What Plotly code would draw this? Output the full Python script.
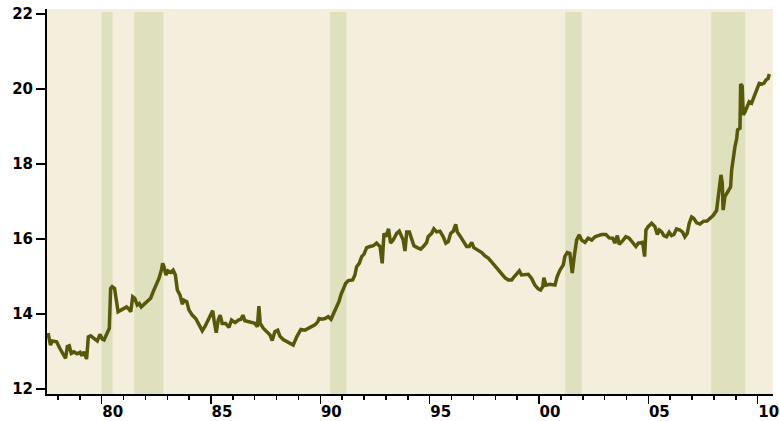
import plotly.graph_objects as go

# Decimal-year dates and values
years = [
    1977.55, 1977.66, 1977.74, 1977.94, 1978.09, 1978.24, 1978.35, 1978.43, 1978.52, 1978.61,
    1978.73, 1978.88, 1979.01, 1979.09, 1979.19, 1979.31, 1979.39, 1979.50, 1979.65, 1979.80,
    1979.92, 1980.03, 1980.11, 1980.26, 1980.35, 1980.41, 1980.48, 1980.59, 1980.75, 1980.90,
    1981.02, 1981.14, 1981.25, 1981.33, 1981.42, 1981.51, 1981.63, 1981.72, 1981.81, 1981.93,
    1982.09, 1982.24, 1982.36, 1982.48, 1982.62, 1982.73, 1982.79, 1982.85, 1982.94, 1983.03,
    1983.16, 1983.27, 1983.37, 1983.46, 1983.58, 1983.69, 1983.76, 1983.89, 1983.99, 1984.14,
    1984.30, 1984.42, 1984.60, 1984.72, 1984.87, 1985.00, 1985.08, 1985.15, 1985.24, 1985.33,
    1985.42, 1985.51, 1985.67, 1985.82, 1985.94, 1986.10, 1986.25, 1986.37, 1986.46, 1986.55,
    1986.70, 1986.86, 1987.01, 1987.12, 1987.19, 1987.25, 1987.39, 1987.55, 1987.70, 1987.80,
    1987.92, 1988.05, 1988.15, 1988.30, 1988.46, 1988.61, 1988.76, 1988.92, 1989.11, 1989.30,
    1989.45, 1989.60, 1989.75, 1989.88, 1989.94, 1990.06, 1990.21, 1990.36, 1990.49, 1990.61,
    1990.75, 1990.85, 1990.94, 1991.05, 1991.16, 1991.28, 1991.48, 1991.58, 1991.66, 1991.78,
    1991.89, 1991.99, 1992.12, 1992.27, 1992.42, 1992.57, 1992.73, 1992.83, 1992.91, 1993.00,
    1993.12, 1993.21, 1993.33, 1993.49, 1993.61, 1993.70, 1993.79, 1993.87, 1993.95, 1994.07,
    1994.18, 1994.28, 1994.43, 1994.59, 1994.74, 1994.86, 1994.93, 1995.09, 1995.19, 1995.32,
    1995.47, 1995.62, 1995.74, 1995.85, 1995.96, 1996.08, 1996.19, 1996.26, 1996.38, 1996.53,
    1996.69, 1996.81, 1996.92, 1997.02, 1997.17, 1997.38, 1997.53, 1997.68, 1997.83, 1997.98,
    1998.13, 1998.29, 1998.44, 1998.59, 1998.75, 1998.87, 1998.98, 1999.10, 1999.20, 1999.36,
    1999.51, 1999.66, 1999.81, 1999.96, 2000.07, 2000.17, 2000.22, 2000.32, 2000.50, 2000.73,
    2000.83, 2000.96, 2001.11, 2001.18, 2001.29, 2001.41, 2001.52, 2001.61, 2001.72, 2001.84,
    2001.95, 2002.10, 2002.25, 2002.41, 2002.56, 2002.71, 2002.86, 2003.06, 2003.21, 2003.37,
    2003.47, 2003.58, 2003.67, 2003.82, 2003.97, 2004.12, 2004.28, 2004.43, 2004.54, 2004.65,
    2004.74, 2004.83, 2004.89, 2004.99, 2005.15, 2005.30, 2005.41, 2005.50, 2005.61, 2005.71,
    2005.83, 2005.95, 2006.06, 2006.17, 2006.29, 2006.44, 2006.57, 2006.67, 2006.78, 2006.87,
    2006.98, 2007.08, 2007.21, 2007.36, 2007.51, 2007.68, 2007.81, 2007.95, 2008.12, 2008.24,
    2008.32, 2008.38, 2008.42, 2008.50, 2008.65, 2008.76, 2008.81, 2008.88, 2008.96, 2009.04,
    2009.08, 2009.19, 2009.22, 2009.29, 2009.34, 2009.42, 2009.52, 2009.61, 2009.72, 2009.83,
    2009.95, 2010.07, 2010.18, 2010.28, 2010.38, 2010.48, 2010.53,
]

values = [
    13.49, 13.17, 13.28, 13.26, 13.08, 12.92, 12.82, 13.13, 13.15, 12.95,
    12.99, 12.94, 12.98, 12.89, 12.99, 12.80, 13.39, 13.42, 13.35, 13.28,
    13.46, 13.33, 13.31, 13.48, 13.62, 14.68, 14.73, 14.68, 14.06, 14.11,
    14.15, 14.19, 14.13, 14.06, 14.46, 14.42, 14.24, 14.28, 14.19, 14.26,
    14.33, 14.42, 14.60, 14.77, 14.95, 15.17, 15.35, 15.26, 15.04, 15.15,
    15.11, 15.17, 15.04, 14.64, 14.51, 14.26, 14.37, 14.33, 14.11, 13.97,
    13.88, 13.75, 13.55, 13.66, 13.84, 13.97, 14.09, 13.79, 13.50, 13.84,
    13.97, 13.75, 13.75, 13.64, 13.84, 13.77, 13.84, 13.86, 13.97, 13.82,
    13.79, 13.77, 13.75, 13.66, 14.21, 13.75, 13.62, 13.53, 13.44, 13.29,
    13.53, 13.57, 13.41, 13.32, 13.26, 13.20, 13.17, 13.39, 13.59, 13.57,
    13.62, 13.66, 13.71, 13.79, 13.88, 13.86, 13.88, 13.93, 13.86, 14.02,
    14.19, 14.33, 14.51, 14.68, 14.82, 14.89, 14.91, 15.04, 15.26, 15.35,
    15.53, 15.59, 15.77, 15.80, 15.82, 15.89, 15.80, 15.35, 16.15, 16.06,
    16.27, 15.89, 15.97, 16.15, 16.21, 16.09, 15.97, 15.68, 16.19, 16.19,
    16.01, 15.82, 15.77, 15.73, 15.82, 15.91, 16.06, 16.15, 16.27, 16.19,
    16.21, 16.06, 15.89, 15.93, 16.15, 16.21, 16.39, 16.19, 16.09, 15.95,
    15.80, 15.80, 15.91, 15.77, 15.71, 15.64, 15.55, 15.49, 15.39, 15.29,
    15.20, 15.09, 14.97, 14.91, 14.91, 15.00, 15.09, 15.15, 15.04, 15.06,
    15.06, 14.95, 14.77, 14.67, 14.64, 14.73, 14.97, 14.77, 14.79, 14.77,
    15.00, 15.17, 15.31, 15.53, 15.64, 15.62, 15.09, 15.53, 15.97, 16.11,
    15.97, 15.91, 16.02, 15.97, 16.06, 16.09, 16.12, 16.12, 16.03, 16.02,
    15.89, 16.09, 15.86, 15.95, 16.06, 16.02, 15.91, 15.80, 15.89, 15.91,
    15.91, 15.53, 16.24, 16.33, 16.42, 16.33, 16.12, 16.24, 16.19, 16.09,
    16.06, 16.18, 16.09, 16.12, 16.27, 16.24, 16.18, 16.06, 16.15, 16.42,
    16.59, 16.55, 16.43, 16.40, 16.47, 16.48, 16.56, 16.62, 16.76, 17.31,
    17.71, 17.49, 16.77, 17.13, 17.26, 17.39, 17.84, 18.15, 18.46, 18.68,
    18.91, 18.95, 20.13, 20.08, 19.31, 19.39, 19.53, 19.66, 19.62, 19.79,
    19.97, 20.15, 20.13, 20.15, 20.24, 20.28, 20.40,
]

# Recession periods (start, end) in decimal years
recession_start = [1980.0, 1981.49, 1990.45, 2001.2, 2007.88]
recession_end = [1980.5, 1982.82, 1991.19, 2001.95, 2009.43]

x_tickvals = [1980, 1985, 1990, 1995, 2000, 2005, 2010]
x_ticktext = ["80", "85", "90", "95", "00", "05", "10"]
y_tickvals = [12, 14, 16, 18, 20, 22]
y_ticktext = ["12", "14", "16", "18", "20", "22"]

BG = "#F4EEDC"
BAND = "#DFE0BE"
LINE = "#58580A"

fig = go.Figure()
fig.add_trace(go.Scatter(
    x=years, y=values, mode="lines",
    line=dict(color=LINE, width=3.5),
    hoverinfo="skip", showlegend=False,
))

for s, e in zip(recession_start, recession_end):
    fig.add_shape(type="rect", xref="x", yref="y", x0=s, x1=e, y0=11.867, y1=22.05,
                  fillcolor=BAND, line=dict(width=0), layer="below")

tickfont = dict(family="DejaVu Sans", size=15, color="black", weight="bold")

fig.update_layout(
    width=780, height=421,
    margin=dict(l=47, r=7, t=9, b=27, autoexpand=False),
    paper_bgcolor="white",
    plot_bgcolor=BG,
    showlegend=False,
    xaxis=dict(
        range=[1977.5, 2010.7],
        automargin=False,
        tickmode="array", tickvals=x_tickvals, ticktext=x_ticktext,
        ticks="outside", ticklen=8, tickwidth=1.5, tickcolor="black",
        ticklabelshift=11, ticklabelstandoff=-5,
        minor=dict(ticks="outside", ticklen=4, tickwidth=1.5, tickcolor="black",
                   tickmode="linear", tick0=1977, dtick=1, showgrid=False),
        showline=True, linecolor="black", linewidth=2,
        showgrid=False, zeroline=False,
        tickfont=tickfont,
    ),
    yaxis=dict(
        range=[11.867, 22.133],
        automargin=False,
        tickmode="array", tickvals=y_tickvals, ticktext=y_ticktext,
        ticks="outside", ticklen=9, tickwidth=1.5, tickcolor="black",
        showline=True, linecolor="black", linewidth=2,
        showgrid=False, zeroline=False,
        tickfont=tickfont,
    ),
)

fig.write_html(
    "out.html",
    config={"displayModeBar": False, "staticPlot": True},
    post_script="document.body.style.margin='0';document.body.style.overflow='hidden';",
)
